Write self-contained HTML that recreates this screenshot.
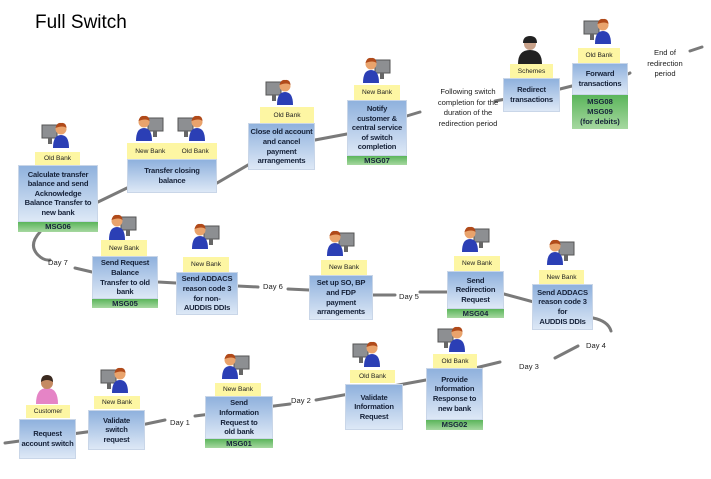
<!DOCTYPE html>
<html><head><meta charset="utf-8"><style>
body{margin:0;width:711px;height:479px;background:#fff;position:relative;overflow:hidden;font-family:"Liberation Sans",sans-serif}
.t{position:absolute;left:35px;top:12px;font-size:19px;color:#000}
.b{position:absolute;box-sizing:border-box;background:linear-gradient(#8fb1dd,#dde8f6);border:1px solid #c9d6e8;font-size:7.6px;font-weight:bold;color:#17233a;text-align:center;display:flex;align-items:center;justify-content:center;line-height:9.6px;letter-spacing:-0.2px;white-space:nowrap}
.g{position:absolute;box-sizing:border-box;background:linear-gradient(#5bb55b,#a6d8a0);font-size:7.6px;font-weight:bold;color:#17233a;text-align:center;line-height:10px;display:flex;align-items:center;justify-content:center}
.l{position:absolute;background:#fdf6a3;font-size:6.6px;color:#222;text-align:center;display:flex;align-items:center;justify-content:center}
.d{position:absolute;font-size:7.6px;color:#222;text-align:center;line-height:10.5px}
svg{position:absolute;left:0;top:0}
</style></head><body>
<svg width="711" height="479">
<defs>
<g id="p"><rect x="14" y="4" width="15" height="13" fill="#8d8f92" stroke="#555" stroke-width="1"/><rect x="19" y="17" width="4" height="6" fill="#666"/><path d="M2 27 Q2 14 10 14 Q18 14 18 27Z" fill="#2b3fb5"/><circle cx="10" cy="8" r="5.5" fill="#e9a36c"/><path d="M4.5 7 Q6 1 10 2 Q15 1 15.5 7 Q12 4 4.5 7Z" fill="#b04a1a"/></g>
<g id="q"><rect x="1" y="4" width="15" height="13" fill="#8d8f92" stroke="#555" stroke-width="1"/><rect x="7" y="17" width="4" height="6" fill="#666"/><path d="M12 27 Q12 14 20 14 Q28 14 28 27Z" fill="#2b3fb5"/><circle cx="20" cy="8" r="5.5" fill="#e9a36c"/><path d="M14.5 7 Q16 1 20 2 Q25 1 25.5 7 Q22 4 14.5 7Z" fill="#b04a1a"/></g>
</defs>
<g fill="none" stroke="#7a7a7a" stroke-width="3" stroke-linecap="round">
<path d="M5 443 L146 424 L165 420"/><path d="M195 416 L290 404"/><path d="M316 400 L426 380 L500 362"/><path d="M555 358 L578 346"/>
<path d="M593 318 Q608 321 611 331"/>
<path d="M593 318 L504 294 L447 292 L420 292"/><path d="M395 295 L373 295 L309 290 L288 289"/><path d="M258 287 L176 283 L158 282 L92 272 L75 268"/>
<path d="M40 232 Q28 245 38 255 Q44 261 50 260"/>
<path d="M98 202 L127 188 L217 183 L248 165 L315 140 L347 134 L372 128"/><path d="M400 118 L420 112"/><path d="M495 101 L560 89 L572 86 L628 74 L630 73"/><path d="M690 51 L702 47"/>
</g>
<g><path d="M36 404 Q36 388 47 388 Q58 388 58 404Z" fill="#e584c6"/><circle cx="47" cy="383" r="6" fill="#c58a62"/><path d="M41 382 Q41 375 47 375 Q53 375 53 382 Q47 378 41 382Z" fill="#3b2a20"/></g>
<use href="#q" x="100" y="366"/>
<use href="#p" x="220" y="352"/>
<use href="#q" x="352" y="340"/>
<use href="#q" x="437" y="325"/>
<use href="#p" x="107" y="213"/>
<use href="#p" x="190" y="222"/>
<use href="#p" x="325" y="229"/>
<use href="#p" x="460" y="225"/>
<use href="#p" x="545" y="238"/>
<use href="#q" x="41" y="121"/>
<use href="#p" x="134" y="114"/>
<use href="#q" x="177" y="114"/>
<use href="#q" x="265" y="78"/>
<use href="#p" x="361" y="56"/>
<use href="#q" x="583" y="17"/>
<g><path d="M518 64 Q518 50 530 50 Q542 50 542 64Z" fill="#222"/><circle cx="530" cy="44" r="6" fill="#c9a28a"/><path d="M523 43 Q523 36 530 36 Q537 36 537 43Z" fill="#222"/></g>
</svg>
<div class="t">Full Switch</div>

<div class="l" style="left:26px;top:405px;width:44px;height:13px">Customer</div>
<div class="b" style="left:19px;top:419px;width:57px;height:40px">Request<br>account switch</div>
<div class="l" style="left:94px;top:396px;width:46px;height:13px">New Bank</div>
<div class="b" style="left:88px;top:410px;width:57px;height:40px">Validate<br>switch<br>request</div>
<div class="d" style="left:170px;top:418px">Day 1</div>
<div class="l" style="left:215px;top:383px;width:46px;height:13px">New Bank</div>
<div class="b" style="left:205px;top:396px;width:68px;height:43px">Send<br>Information<br>Request to<br>old bank</div>
<div class="g" style="left:205px;top:439px;width:68px;height:9px">MSG01</div>
<div class="d" style="left:291px;top:396px">Day 2</div>
<div class="l" style="left:350px;top:370px;width:45px;height:13px">Old Bank</div>
<div class="b" style="left:345px;top:384px;width:58px;height:46px">Validate<br>Information<br>Request</div>
<div class="l" style="left:433px;top:354px;width:44px;height:14px">Old Bank</div>
<div class="b" style="left:426px;top:368px;width:57px;height:52px">Provide<br>Information<br>Response to<br>new bank</div>
<div class="g" style="left:426px;top:420px;width:57px;height:10px">MSG02</div>
<div class="d" style="left:519px;top:362px">Day 3</div>
<div class="d" style="left:586px;top:341px">Day 4</div>

<div class="d" style="left:48px;top:258px">Day 7</div>
<div class="l" style="left:101px;top:240px;width:46px;height:16px">New Bank</div>
<div class="b" style="left:92px;top:256px;width:66px;height:43px">Send Request<br>Balance<br>Transfer to old<br>bank</div>
<div class="g" style="left:92px;top:299px;width:66px;height:9px">MSG05</div>
<div class="l" style="left:183px;top:257px;width:46px;height:15px">New Bank</div>
<div class="b" style="left:176px;top:272px;width:62px;height:43px">Send ADDACS<br>reason code 3<br>for non-<br>AUDDIS DDIs</div>
<div class="d" style="left:263px;top:282px">Day 6</div>
<div class="l" style="left:321px;top:260px;width:46px;height:15px">New Bank</div>
<div class="b" style="left:309px;top:275px;width:64px;height:45px">Set up SO, BP<br>and FDP<br>payment<br>arrangements</div>
<div class="d" style="left:399px;top:292px">Day 5</div>
<div class="l" style="left:454px;top:256px;width:46px;height:15px">New Bank</div>
<div class="b" style="left:447px;top:271px;width:57px;height:38px">Send<br>Redirection<br>Request</div>
<div class="g" style="left:447px;top:309px;width:57px;height:9px">MSG04</div>
<div class="l" style="left:539px;top:270px;width:45px;height:14px">New Bank</div>
<div class="b" style="left:532px;top:284px;width:61px;height:46px">Send ADDACS<br>reason code 3<br>for<br>AUDDIS DDIs</div>

<div class="l" style="left:35px;top:152px;width:45px;height:13px">Old Bank</div>
<div class="b" style="left:18px;top:165px;width:80px;height:57px">Calculate transfer<br>balance and send<br>Acknowledge<br>Balance Transfer to<br>new bank</div>
<div class="g" style="left:18px;top:222px;width:80px;height:10px">MSG06</div>
<div class="l" style="left:127px;top:143px;width:90px;height:16px;justify-content:space-around">New Bank<span>Old Bank</span></div>
<div class="b" style="left:127px;top:159px;width:90px;height:34px">Transfer closing<br>balance</div>
<div class="l" style="left:260px;top:107px;width:54px;height:16px">Old Bank</div>
<div class="b" style="left:248px;top:123px;width:67px;height:47px">Close old account<br>and cancel<br>payment<br>arrangements</div>
<div class="l" style="left:354px;top:85px;width:46px;height:15px">New Bank</div>
<div class="b" style="left:347px;top:100px;width:60px;height:56px">Notify<br>customer &amp;<br>central service<br>of switch<br>completion</div>
<div class="g" style="left:347px;top:156px;width:60px;height:9px">MSG07</div>
<div class="d" style="left:418px;top:87px;width:100px">Following switch<br>completion for the<br>duration of the<br>redirection period</div>
<div class="l" style="left:510px;top:64px;width:43px;height:14px">Schemes</div>
<div class="b" style="left:503px;top:78px;width:57px;height:34px">Redirect<br>transactions</div>
<div class="l" style="left:578px;top:48px;width:42px;height:15px">Old Bank</div>
<div class="b" style="left:572px;top:63px;width:56px;height:32px">Forward<br>transactions</div>
<div class="g" style="left:572px;top:95px;width:56px;height:34px">MSG08<br>MSG09<br>(for debits)</div>
<div class="d" style="left:640px;top:48px;width:50px">End of<br>redirection<br>period</div>
</body></html>
